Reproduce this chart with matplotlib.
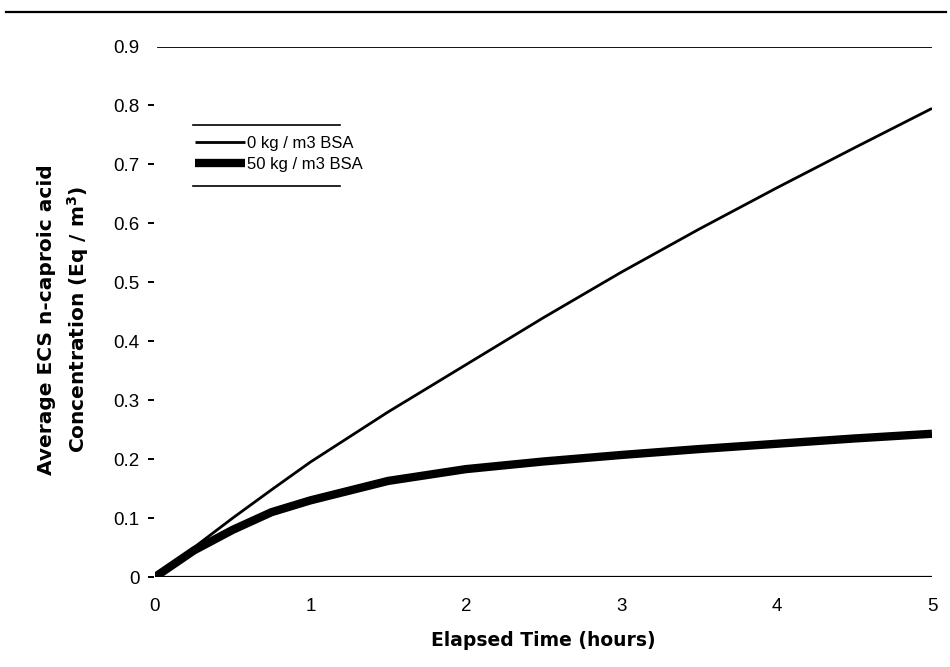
import matplotlib
matplotlib.use("Agg")
import matplotlib.pyplot as plt
from matplotlib.lines import Line2D

plt.rcParams['font.family'] = ['Liberation Sans', 'DejaVu Sans']

# Elapsed time (hours) and average ECS n-caproic acid concentration (Eq / m^3)
time_h = [0, 0.25, 0.5, 0.75, 1, 1.5, 2, 2.5, 3, 3.5, 4, 4.5, 5]
conc_0_bsa = [0, 0.05, 0.10, 0.148, 0.195, 0.28, 0.36, 0.44, 0.517, 0.59, 0.66, 0.728, 0.795]
conc_50_bsa = [0, 0.045, 0.08, 0.11, 0.13, 0.163, 0.183, 0.196, 0.207, 0.217, 0.226, 0.235, 0.243]

series_labels = ["0 kg / m3 BSA", "50 kg / m3 BSA"]
y_ticks = [0, 0.1, 0.2, 0.3, 0.4, 0.5, 0.6, 0.7, 0.8, 0.9]
y_tick_labels = ["0", "0.1", "0.2", "0.3", "0.4", "0.5", "0.6", "0.7", "0.8", "0.9"]
x_ticks = [0, 1, 2, 3, 4, 5]

W, H = 950, 667
fig = plt.figure(figsize=(W / 100, H / 100), dpi=100)
ax = fig.add_axes([155 / W, (H - 577) / H, (932 - 155) / W, (577 - 46.5) / H])

ax.plot(time_h, conc_0_bsa, color='black', lw=2.0, label=series_labels[0],
        solid_capstyle='butt')
ax.plot(time_h, conc_50_bsa, color='black', lw=6.0, label=series_labels[1],
        solid_capstyle='butt')

ax.axhline(0, color='black', lw=1.6, zorder=1)
ax.axhline(0.9, xmin=0.004, xmax=1.0, color='black', lw=1.3, zorder=1)

ax.set_xlim(0, 5)
ax.set_ylim(0, 0.9)

for s in ['top', 'right', 'bottom']:
    ax.spines[s].set_visible(False)
ax.spines['left'].set_position(('outward', 1))
ax.spines['left'].set_visible(False)

ax.set_yticks(y_ticks)
ax.set_yticklabels(y_tick_labels)
ax.set_xticks(x_ticks)
ax.tick_params(axis='y', length=4, width=1.4, pad=6, labelsize=13.5)
ax.tick_params(axis='x', length=0, pad=15, labelsize=13.5)
# no tick dash at 0.9, where the top rule begins
ax.yaxis.get_major_ticks()[-1].tick1line.set_visible(False)

ax.set_xlabel("Elapsed Time (hours)", fontsize=13.5, fontweight='bold',
              family='DejaVu Sans', labelpad=12)
ax.set_ylabel("Average ECS n-caproic acid\nConcentration (Eq / m$^\\mathbf{3}$)",
              fontsize=14.5, fontweight='bold', family='DejaVu Sans',
              linespacing=1.45)
ax.yaxis.set_label_coords(-0.083, 0.486)

leg = ax.legend(loc='upper left', bbox_to_anchor=(195 / W, (H - 136) / H),
                bbox_transform=fig.transFigure, frameon=False, fontsize=12,
                handlelength=3.0, handletextpad=0.1, labelspacing=0.35,
                borderaxespad=0, borderpad=0)

# rules above and below the legend
for yp in (125, 186):
    fig.add_artist(Line2D([193 / W, 340 / W], [(H - yp) / H] * 2,
                          color='black', lw=1.2))

# page rule across the top
fig.add_artist(Line2D([6 / W, 946 / W], [(H - 12) / H] * 2, color='black', lw=1.6))

fig.savefig("out.png", dpi=100, facecolor='white')
